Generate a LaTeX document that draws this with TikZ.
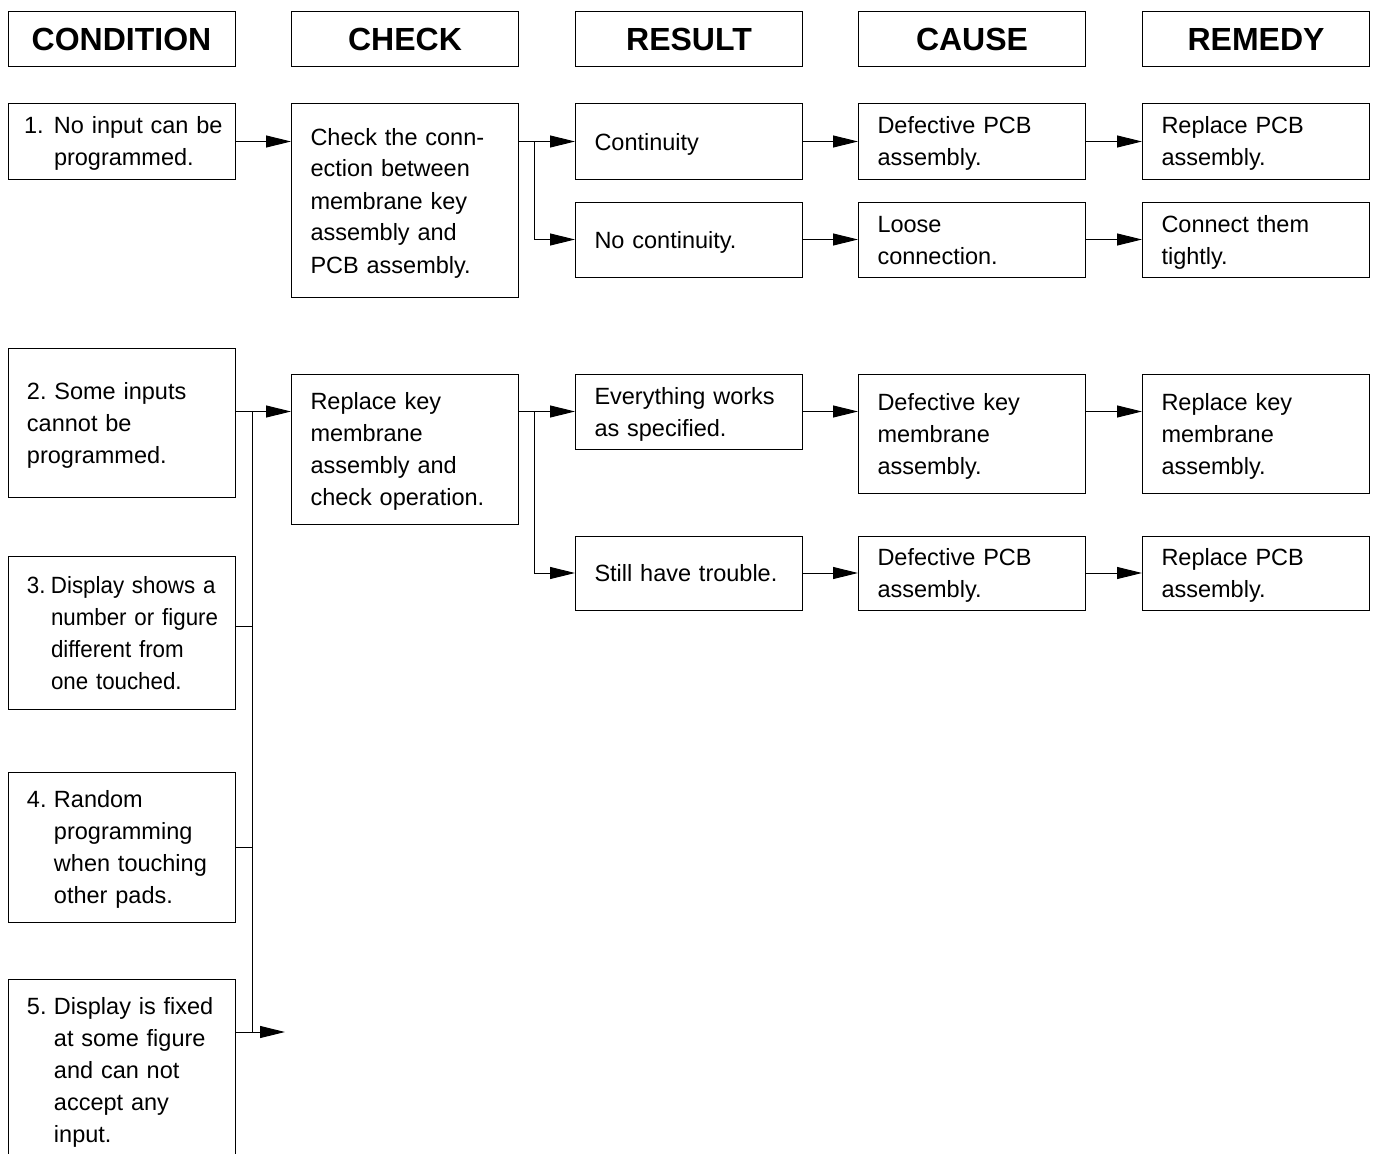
\documentclass[tikz,border=0pt]{standalone}
\usepackage{fontspec}
\setmainfont{Liberation Sans}
\newfontfamily\mycondfont[FakeStretch=0.95]{Liberation Sans}
\usetikzlibrary{arrows.meta}
\newcommand\mytstrut{\rule{0pt}{23pt}}
\newcommand\mybstrut{\rule[-6pt]{0pt}{6pt}}
\frenchspacing
\begin{document}
\begin{tikzpicture}[x=1pt,y=-1pt,
  line width=1pt,
  hd/.style={draw, rectangle, minimum width=227pt, minimum height=55pt, inner sep=0pt,
    font=\fontsize{32}{38}\selectfont\bfseries},
  bx/.style={draw, rectangle, inner ysep=0pt, inner xsep=19pt, text width=189pt,
    align=left, font=\fontsize{23.5}{32}\selectfont\frenchspacing,
    execute at begin node=\mytstrut, execute at end node=\mybstrut},
  arr/.style={-{Triangle[length=25pt,width=12pt]}}]
\useasboundingbox (0,0) rectangle (1375,1153);
\clip (0,0) rectangle (1375,1153);
% headers
\node[hd] (h1) at (121.5,39.5) {CONDITION};
\node[hd] (h2) at (405,39.5) {CHECK};
\node[hd] (h3) at (689,39.5) {RESULT};
\node[hd] (h4) at (972,39.5) {CAUSE};
\node[hd] (h5) at (1256,39.5) {REMEDY};
% row 1
\node[bx, minimum height=75pt, inner xsep=16pt, text width=195pt] (c1) at (121.5,141.5)
  {\mbox{\makebox[30pt][l]{1.}No input can be}\\\hspace*{30pt}programmed.};
\node[bx, minimum height=193pt] (k1) at (405,200.5)
  {\mbox{Check the conn-}\\\mbox{ection between}\\\mbox{membrane key}\\\mbox{assembly and}\\\mbox{PCB assembly.}};
\node[bx, minimum height=75pt] (r1a) at (689,141.5) {Continuity};
\node[bx, minimum height=75pt] (r1b) at (689,239.5) {No continuity.};
\node[bx, minimum height=75pt] (a1a) at (972,141.5) {Defective PCB\\assembly.};
\node[bx, minimum height=75pt] (a1b) at (972,239.5) {Loose\\connection.};
\node[bx, minimum height=75pt] (m1a) at (1256,141.5) {Replace PCB\\assembly.};
\node[bx, minimum height=75pt] (m1b) at (1256,239.5) {Connect them\\tightly.};
% row 2
\node[bx, minimum height=149pt] (c2) at (121.5,422.5) {2. Some inputs\\cannot be\\programmed.};
\node[bx, minimum height=150pt] (k2) at (405,449)
  {Replace key\\membrane\\assembly and\\\mbox{check operation.}};
\node[bx, minimum height=75pt] (r2a) at (689,411.5) {\mbox{Everything works}\\as specified.};
\node[bx, minimum height=74pt] (r2b) at (689,573) {\mbox{Still have trouble.}};
\node[bx, minimum height=119pt] (a2a) at (972,433.5) {Defective key\\membrane\\assembly.};
\node[bx, minimum height=74pt] (a2b) at (972,573) {Defective PCB\\assembly.};
\node[bx, minimum height=119pt] (m2a) at (1256,433.5) {Replace key\\membrane\\assembly.};
\node[bx, minimum height=74pt] (m2b) at (1256,573) {Replace PCB\\assembly.};
\node[bx, minimum height=153pt,
  font=\mycondfont\fontsize{23.5}{32}\selectfont\frenchspacing] (c3) at (121.5,632.5)
  {\mbox{\makebox[24pt][l]{3.}Display shows a}\\\mbox{\hspace*{24pt}number or figure}\\\mbox{\hspace*{24pt}different from}\\\mbox{\hspace*{24pt}one touched.}};
\node[bx, minimum height=150pt] (c4) at (121.5,847)
  {\makebox[27pt][l]{4.}Random\\\hspace*{27pt}programming\\\mbox{\hspace*{27pt}when touching}\\\hspace*{27pt}other pads.};
\node[bx, minimum height=181pt] (c5) at (121.5,1069.5)
  {\mbox{\makebox[27pt][l]{5.}Display is fixed}\\\mbox{\hspace*{27pt}at some figure}\\\hspace*{27pt}and can not\\\hspace*{27pt}accept any\\\hspace*{27pt}input.};
% connectors row 1
\draw[arr] (c1.east) -- (c1.east -| k1.west);
\draw[arr] (k1.east |- r1a.west) -- (r1a.west);
\draw[arr] (k1.east |- r1a.west) ++(15,0) |- (r1b.west);
\draw[arr] (r1a.east) -- (a1a.west);
\draw[arr] (r1b.east) -- (a1b.west);
\draw[arr] (a1a.east) -- (m1a.west);
\draw[arr] (a1b.east) -- (m1b.west);
% connectors row 2
\coordinate (bt) at (252,412);
\coordinate (bb) at (252,1032);
\coordinate (free) at (285,1032);
\draw[arr] (c2.east |- r2a.west) -- (k2.west |- r2a.west);
\draw (bt) -- (bb);
\draw ([yshift=6.5pt]c3.east) -- ([yshift=6.5pt]c3.east -| bt);
\draw (c4.east) -- (c4.east -| bt);
\draw[arr] (c5.east |- bb) -- (free);
\draw[arr] (k2.east |- r2a.west) -- (r2a.west);
\draw[arr] (k2.east |- r2a.west) ++(15,0) |- (r2b.west);
\draw[arr] (r2a.east) -- (r2a.east -| a2a.west);
\draw[arr] (a2a.east |- r2a.east) -- (m2a.west |- r2a.east);
\draw[arr] (r2b.east) -- (a2b.west);
\draw[arr] (a2b.east) -- (m2b.west);
\end{tikzpicture}
\end{document}
